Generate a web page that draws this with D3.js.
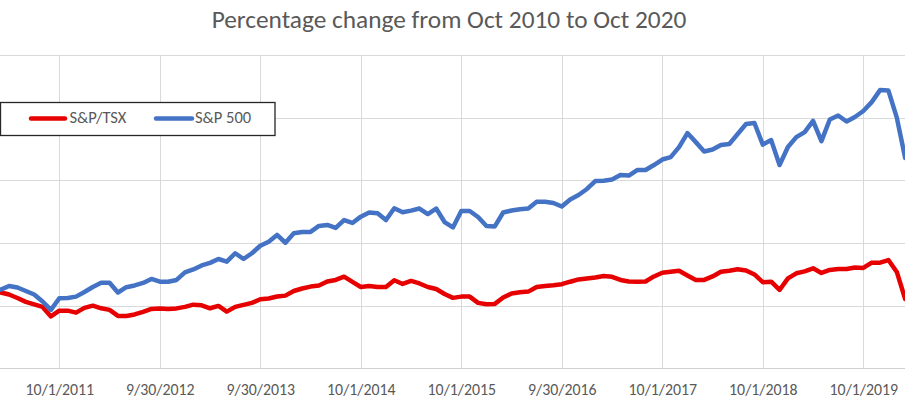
<!DOCTYPE html>
<html>
<head>
<meta charset="utf-8">
<script src="https://cdn.jsdelivr.net/npm/d3@7"></script>
<style>
  html, body { margin: 0; padding: 0; background: #ffffff; }
  svg { display: block; }
  text { font-family: Carlito, Calibri, Lato, "Open Sans", sans-serif; }
</style>
</head>
<body>
<svg id="chart" width="905" height="400"></svg>
<script>
// ---- Data (percentage change since end of Oct 2010, monthly) ----
const months = [
  "2011-02","2011-03","2011-04","2011-05","2011-06","2011-07","2011-08","2011-09","2011-10","2011-11","2011-12",
  "2012-01","2012-02","2012-03","2012-04","2012-05","2012-06","2012-07","2012-08","2012-09","2012-10","2012-11","2012-12",
  "2013-01","2013-02","2013-03","2013-04","2013-05","2013-06","2013-07","2013-08","2013-09","2013-10","2013-11","2013-12",
  "2014-01","2014-02","2014-03","2014-04","2014-05","2014-06","2014-07","2014-08","2014-09","2014-10","2014-11","2014-12",
  "2015-01","2015-02","2015-03","2015-04","2015-05","2015-06","2015-07","2015-08","2015-09","2015-10","2015-11","2015-12",
  "2016-01","2016-02","2016-03","2016-04","2016-05","2016-06","2016-07","2016-08","2016-09","2016-10","2016-11","2016-12",
  "2017-01","2017-02","2017-03","2017-04","2017-05","2017-06","2017-07","2017-08","2017-09","2017-10","2017-11","2017-12",
  "2018-01","2018-02","2018-03","2018-04","2018-05","2018-06","2018-07","2018-08","2018-09","2018-10","2018-11","2018-12",
  "2019-01","2019-02","2019-03","2019-04","2019-05","2019-06","2019-07","2019-08","2019-09","2019-10","2019-11","2019-12",
  "2020-01","2020-02","2020-03"
];

const tsx = [
  11.0, 10.5, 8.9, 6.1, 3.0, 1.0, -1.0, -8.6, -4.0, -4.0, -5.6,
  -1.8, 0.0, -2.1, -3.4, -8.2, -8.2, -7.0, -5.0, -2.6, -2.2, -2.6, -2.2,
  -1.0, 0.8, 0.3, -2.1, -0.2, -4.8, -1.0, 0.6, 2.2, 5.1, 5.7, 7.3,
  8.0, 11.7, 13.7, 15.2, 16.1, 19.3, 20.5, 23.1, 18.9, 14.9, 15.7, 14.9,
  14.9, 20.3, 17.3, 19.7, 17.7, 14.9, 13.3, 9.3, 6.2, 7.2, 7.2, 2.2,
  1.1, 1.4, 6.5, 9.7, 10.7, 11.2, 14.9, 15.7, 16.3, 17.1, 19.1, 20.9,
  21.7, 22.5, 23.7, 23.0, 20.5, 19.3, 19.1, 19.3, 23.3, 26.3, 27.1, 27.8,
  24.1, 20.5, 20.5, 23.3, 27.1, 27.9, 29.0, 28.1, 24.9, 18.7, 19.1, 12.5,
  21.7, 25.8, 27.3, 29.8, 26.1, 28.5, 29.3, 29.3, 30.5, 30.1, 34.3, 34.3,
  36.4, 26.9, 5.3
];

const sp500 = [
  12.0, 12.8, 15.7, 14.5, 11.7, 8.9, 3.3, -3.4, 5.9, 6.1, 7.2,
  10.9, 14.9, 18.3, 18.3, 10.5, 14.7, 16.1, 18.1, 21.3, 19.1, 19.1, 20.5,
  26.5, 28.9, 32.1, 34.1, 37.2, 35.1, 41.8, 37.2, 41.8, 47.8, 51.0, 56.4,
  50.2, 57.7, 58.8, 58.8, 63.6, 64.4, 62.0, 68.3, 66.0, 71.0, 74.3, 73.7,
  68.3, 77.7, 74.5, 75.8, 77.5, 73.1, 77.5, 66.7, 62.4, 75.5, 75.5, 70.7,
  63.6, 63.2, 74.3, 75.9, 76.9, 77.5, 82.9, 82.9, 81.9, 79.1, 84.7, 88.3,
  93.1, 99.4, 99.7, 100.6, 104.2, 103.8, 108.2, 108.2, 112.2, 116.6, 118.5, 126.5,
  137.7, 130.5, 123.0, 124.6, 128.2, 129.0, 136.9, 144.9, 145.7, 128.5, 132.1, 112.2,
  126.6, 134.5, 138.5, 147.5, 131.3, 148.5, 151.7, 146.9, 150.5, 155.3, 162.4, 172.0,
  171.6, 150.0, 117.8
];

const tickMonths = ["2011-10","2012-10","2013-10","2014-10","2015-10","2016-10","2017-10","2018-10","2019-10"];
const tickLabels = ["10/1/2011","9/30/2012","9/30/2013","10/1/2014","10/1/2015","9/30/2016","10/1/2017","10/1/2018","10/1/2019"];
const yTicks = [-50, 0, 50, 100, 150, 200];

const seriesNames = ["S&P/TSX", "S&P 500"];
const seriesColors = ["#e60000", "#4472c4"];
const titleText = "Percentage change from Oct 2010 to Oct 2020";

// ---- Layout ----
const W = 905, H = 400;
const svg = d3.select("#chart");

// fit a text element's font size so its width matches a target width
function fitWidth(sel, target) {
  const fs = parseFloat(sel.attr("font-size"));
  const w = sel.node().getComputedTextLength();
  if (w > 0) sel.attr("font-size", fs * target / w);
  return fs * target / w;
}

// month offset from Oct 2010 (category position)
const monthPos = m => { const [yy, mo] = m.split("-").map(Number); return (yy - 2010) * 12 + (mo - 10); };

const x = d3.scaleLinear().domain([0, 120]).range([-41.2, 963.8]);
const y = d3.scaleLinear().domain([-50, 200]).range([368.3, 55]);

// horizontal gridlines
svg.append("g").selectAll("line").data(yTicks.slice(1)).join("line")
  .attr("x1", 0).attr("x2", W)
  .attr("y1", d => Math.round(y(d)) + 0.5).attr("y2", d => Math.round(y(d)) + 0.5)
  .attr("stroke", "#d9d9d9").attr("stroke-width", 1);

// vertical gridlines
svg.append("g").selectAll("line").data(tickMonths).join("line")
  .attr("x1", d => Math.round(x(monthPos(d))) + 0.5).attr("x2", d => Math.round(x(monthPos(d))) + 0.5)
  .attr("y1", y(200)).attr("y2", y(-50))
  .attr("stroke", "#d9d9d9").attr("stroke-width", 1);

// x axis
const xAxis = d3.axisBottom(x)
  .tickValues(tickMonths.map(monthPos))
  .tickFormat((d, i) => tickLabels[i])
  .tickSize(0).tickPadding(0);
const gx = svg.append("g").attr("transform", `translate(0,${Math.round(y(-50)) + 0.5})`).call(xAxis);
gx.select(".domain").remove();
gx.append("line").attr("x1", 0).attr("x2", W).attr("stroke", "#d0d0d0").attr("stroke-width", 1.2);
gx.selectAll(".tick text")
  .attr("fill", "#595959").attr("font-size", 15)
  .attr("dy", null).attr("y", 26.5)
  .style("font-family", "Carlito, Calibri, Lato, 'Open Sans', sans-serif");
{
  const first = gx.select(".tick text");
  const fs = fitWidth(first, 68.5);
  gx.selectAll(".tick text").attr("font-size", fs);
}

// lines
const line = d3.line().x((d, i) => x(monthPos(months[i]))).y(d => y(d));
[tsx, sp500].forEach((vals, k) => {
  svg.append("path").datum(vals)
    .attr("d", line)
    .attr("fill", "none")
    .attr("stroke", seriesColors[k])
    .attr("stroke-width", 4.5)
    .attr("stroke-linejoin", "round")
    .attr("stroke-linecap", "round");
});

// title
const title = svg.append("text")
  .attr("x", 449).attr("y", 27.5)
  .attr("text-anchor", "middle")
  .attr("fill", "#595959")
  .attr("font-size", 20)
  .text(titleText);
fitWidth(title, 475);

// legend
const lg = svg.append("g");
lg.append("rect").attr("x", 0.5).attr("y", 102.5).attr("width", 274.5).attr("height", 33)
  .attr("fill", "#ffffff").attr("stroke", "#262626").attr("stroke-width", 1.3);
const legendItems = [
  { x1: 31, x2: 65, tx: 69.5 },
  { x1: 156, x2: 192, tx: 195 }
];
let legendFs = null;
legendItems.forEach((it, k) => {
  lg.append("line").attr("x1", it.x1).attr("x2", it.x2).attr("y1", 118.5).attr("y2", 118.5)
    .attr("stroke", seriesColors[k]).attr("stroke-width", 4.5).attr("stroke-linecap", "round");
  const t = lg.append("text").attr("x", it.tx).attr("y", 123)
    .attr("fill", "#595959").attr("font-size", legendFs || 14.5)
    .text(seriesNames[k]);
  if (k === 0) legendFs = fitWidth(t, 57);
});
</script>
</body>
</html>
